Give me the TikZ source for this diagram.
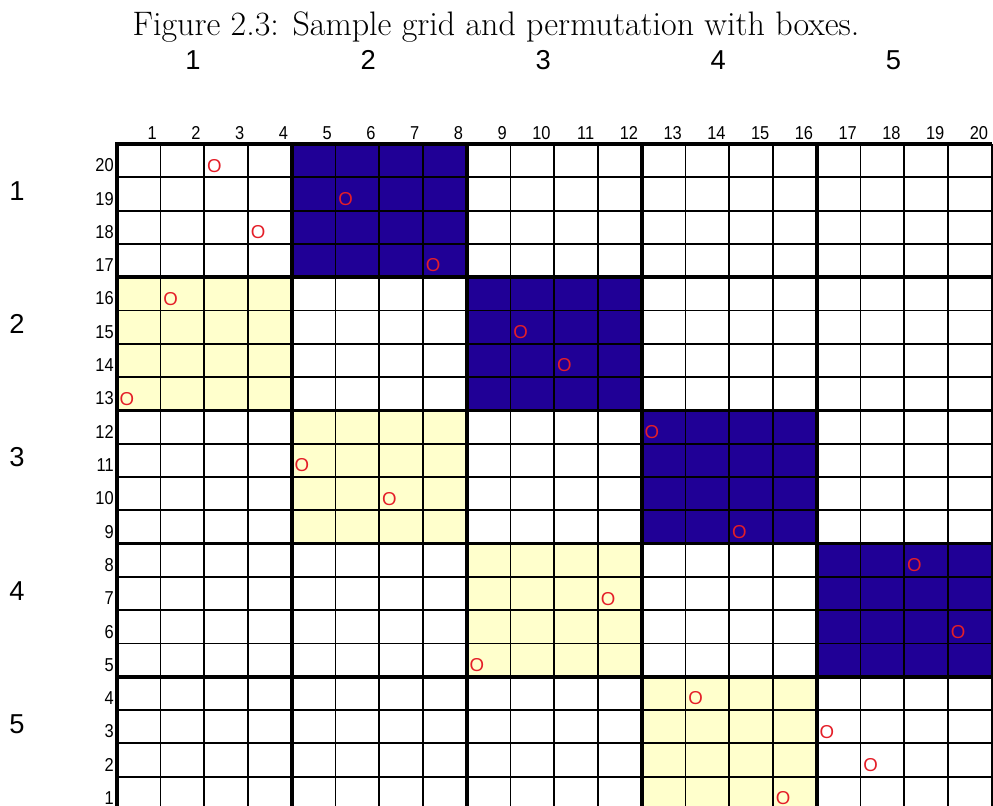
\documentclass[tikz,border=0pt]{standalone}
\usepackage{fontspec}
\setsansfont{Liberation Sans}
\newfontfamily\narrowsans[FakeStretch=0.88]{Liberation Sans}
\definecolor{boxblue}{RGB}{32,0,150}
\definecolor{boxyellow}{RGB}{255,255,204}
\definecolor{markred}{RGB}{228,30,40}
\begin{document}
\begin{tikzpicture}[x=0.75pt,y=-0.75pt,
  thingrid/.style={line width=1.4pt, black},
  thickgrid/.style={line width=2.8pt, black},
  titletext/.style={font=\fontsize{25.5}{30}\selectfont, inner sep=0pt, anchor=base},
  blocklabel/.style={font=\sffamily\fontsize{20.5}{24}\selectfont, inner sep=0pt, anchor=base},
  cellnum/.style={font=\narrowsans\fontsize{14}{16}\selectfont, inner sep=0pt, anchor=base east},
  permmark/.style={font=\sffamily\fontsize{14}{16}\selectfont, text=markred, inner sep=0pt, anchor=base west}]
\def\gx{116.8}
\def\cw{43.75}
\def\gy{144}
\def\rh{33.3}
\useasboundingbox (0,0) rectangle (993,806);
\fill[white] (0,0) rectangle (993,806);

\node[titletext] (title) at (496,36) {Figure 2.3: Sample grid and permutation with boxes.};

\foreach \k in {1,...,5} {
  \node[blocklabel] (top\k) at ({193+(\k-1)*175.1},69.5) {\k};
  \node[blocklabel] (left\k) at (17,{200.5+(\k-1)*133.2}) {\k};
}

\begin{scope}
\clip (0,0) rectangle (993,806);
\foreach \b in {1,...,4} {
  \fill[boxblue] ({\gx+4*\b*\cw},{\gy+4*(\b-1)*\rh}) rectangle ({\gx+4*(\b+1)*\cw},{\gy+4*\b*\rh});
  \fill[boxyellow] ({\gx+4*(\b-1)*\cw},{\gy+4*\b*\rh}) rectangle ({\gx+4*\b*\cw},{\gy+4*(\b+1)*\rh});
}
\foreach \i in {1,2,3,5,6,7,9,10,11,13,14,15,17,18,19,20} {
  \draw[thingrid] ({\gx+\i*\cw},\gy) -- ({\gx+\i*\cw},{\gy+20*\rh});
}
\foreach \i in {1,2,3,5,6,7,9,10,11,13,14,15,17,18,19} {
  \draw[thingrid] (\gx,{\gy+\i*\rh}) -- ({\gx+20*\cw},{\gy+\i*\rh});
}
\foreach \i in {0,4,8,12,16} {
  \draw[thickgrid] ({\gx+\i*\cw},{\gy-1.4}) -- ({\gx+\i*\cw},{\gy+20*\rh});
  \draw[thickgrid] ({\gx-1.4},{\gy+\i*\rh}) -- ({\gx+20*\cw},{\gy+\i*\rh});
}

\foreach \r/\c in {20/3,19/6,18/4,17/8,16/2,15/10,14/11,13/1,12/13,11/5,10/7,9/15,8/19,7/12,6/20,5/9,4/14,3/17,2/18,1/16} {
  \node[permmark] (o\r) at ({\gx+(\c-1)*\cw+2.5},{\gy+(21-\r)*\rh-5.2}) {O};
}
\end{scope}

\foreach \c in {1,...,20} {
  \node[cellnum] (col\c) at ({\gx+\c*\cw-3.5},139.3) {\c};
}
\foreach \r in {1,...,20} {
  \node[cellnum] (row\r) at (114,{\gy+(21-\r)*\rh-5.5}) {\r};
}
\end{tikzpicture}
\end{document}
